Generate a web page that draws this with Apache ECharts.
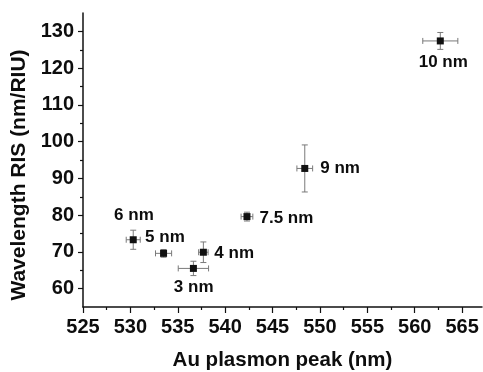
<!DOCTYPE html>
<html>
<head>
<meta charset="utf-8">
<script src="https://cdn.jsdelivr.net/npm/echarts@6/dist/echarts.min.js"></script>
<style>
html,body{margin:0;padding:0;background:#fff;}
#chart{width:483px;height:372px;}
</style>
</head>
<body>
<div id="chart"></div>
<script>
// ---- data ----
const sizeLabels = ['10 nm', '9 nm', '7.5 nm', '6 nm', '5 nm', '4 nm', '3 nm'];
const plasmonPeak = [562.7, 548.4, 542.3, 530.3, 533.5, 537.7, 536.65];   // x (nm)
const ris = [127.4, 92.7, 79.6, 73.3, 69.6, 69.9, 65.5];                   // y (nm/RIU)
const peakErr = [1.85, 0.83, 0.62, 0.74, 0.85, 0.5, 1.6];
const risErr = [2.3, 6.4, 1.2, 2.6, 1.05, 2.8, 1.95];
const xMajorTicks = [525, 530, 535, 540, 545, 550, 555, 560, 565];
const xMinorTicks = [527.5, 532.5, 537.5, 542.5, 547.5, 552.5, 557.5, 562.5];
const yMajorTicks = [60, 70, 80, 90, 100, 110, 120, 130];
const yMinorTicks = [65, 75, 85, 95, 105, 115, 125];

// ---- label placement (style only) ----
const labelAlign = ['center', 'left', 'left', 'center', 'center', 'left', 'center'];
const labelOffset = [[3, 21], [15.5, 0], [12.5, 1.3], [0.7, -24], [1.4, -16], [11, 1.3], [0.3, 18.6]];

const FONT = "'Liberation Sans', Arial, Helvetica, sans-serif";
const TXT = '#0d0d0d';
const chart = echarts.init(document.getElementById('chart'), null, {renderer: 'canvas'});

const option = {
  backgroundColor: '#ffffff',
  animation: false,
  grid: {left: 83, right: 1, top: 13, bottom: 65, containLabel: false, outerBoundsMode: 'none'},
  xAxis: [{
    type: 'value', min: 525, max: 567.1, position: 'bottom',
    name: 'Au plasmon peak (nm)', nameLocation: 'middle', nameGap: 43,
    nameTextStyle: {fontFamily: FONT, fontWeight: 'bold', fontSize: 20.5, color: TXT},
    axisLine: {show: true, onZero: false, lineStyle: {color: '#111', width: 1.5}},
    axisTick: {show: true, inside: false, length: 6, customValues: xMajorTicks, lineStyle: {color: '#111', width: 1.2}},
    axisLabel: {show: true, customValues: xMajorTicks, margin: 10, fontFamily: FONT, fontWeight: 'bold', fontSize: 20, color: TXT},
    splitLine: {show: false}
  }, {
    type: 'value', min: 525, max: 567.1, position: 'bottom', gridIndex: 0,
    axisLine: {show: false},
    axisTick: {show: true, inside: false, length: 3, customValues: xMinorTicks, lineStyle: {color: '#111', width: 1.2}},
    axisLabel: {show: false},
    splitLine: {show: false}
  }],
  yAxis: [{
    type: 'value', min: 55, max: 135, position: 'left',
    name: 'Wavelength RIS (nm/RIU)', nameLocation: 'middle', nameGap: 48, nameRotate: 90,
    nameTextStyle: {fontFamily: FONT, fontWeight: 'bold', fontSize: 21, color: TXT, padding: [0, 30, 0, 0]},
    axisLine: {show: true, onZero: false, lineStyle: {color: '#111', width: 1.5}},
    axisTick: {show: true, inside: false, length: 5, customValues: yMajorTicks, lineStyle: {color: '#111', width: 1.2}},
    axisLabel: {show: true, customValues: yMajorTicks, margin: 9, fontFamily: FONT, fontWeight: 'bold', fontSize: 20, color: TXT},
    splitLine: {show: false}
  }, {
    type: 'value', min: 55, max: 135, position: 'left', gridIndex: 0,
    axisLine: {show: false},
    axisTick: {show: true, inside: false, length: 3, customValues: yMinorTicks, lineStyle: {color: '#111', width: 1.2}},
    axisLabel: {show: false},
    splitLine: {show: false}
  }],
  series: [{
    type: 'custom',
    xAxisIndex: 0, yAxisIndex: 0,
    clip: false,
    encode: {x: 0, y: 1},
    data: plasmonPeak.map((x, i) => [x, ris[i], peakErr[i], risErr[i]]),
    renderItem: function (params, api) {
      const x = api.value(0), y = api.value(1), xe = api.value(2), ye = api.value(3);
      const l = api.coord([x - xe, y]), r = api.coord([x + xe, y]);
      const t = api.coord([x, y + ye]), b = api.coord([x, y - ye]);
      const cap = 3;
      const st = {stroke: '#7a7a7a', lineWidth: 1, fill: null};
      const line = (x1, y1, x2, y2) => ({type: 'line', shape: {x1, y1, x2, y2}, style: st});
      return {
        type: 'group',
        children: [
          line(l[0], l[1], r[0], r[1]),
          line(l[0], l[1] - cap, l[0], l[1] + cap),
          line(r[0], r[1] - cap, r[0], r[1] + cap),
          line(t[0], t[1], b[0], b[1]),
          line(t[0] - cap, t[1], t[0] + cap, t[1]),
          line(b[0] - cap, b[1], b[0] + cap, b[1])
        ]
      };
    },
    z: 2
  }, {
    type: 'scatter',
    xAxisIndex: 0, yAxisIndex: 0,
    symbol: 'rect', symbolSize: 7,
    itemStyle: {color: '#111', opacity: 1},
    data: plasmonPeak.map((x, i) => ({
      value: [x, ris[i]],
      label: {
        show: true, formatter: sizeLabels[i], position: 'inside',
        align: labelAlign[i], verticalAlign: 'middle', offset: labelOffset[i],
        fontFamily: FONT, fontWeight: 'bold', fontSize: 17, color: TXT,
        textBorderWidth: 0, opacity: 1
      }
    })),
    emphasis: {disabled: true},
    z: 3
  }]
};
chart.setOption(option);
</script>
</body>
</html>
